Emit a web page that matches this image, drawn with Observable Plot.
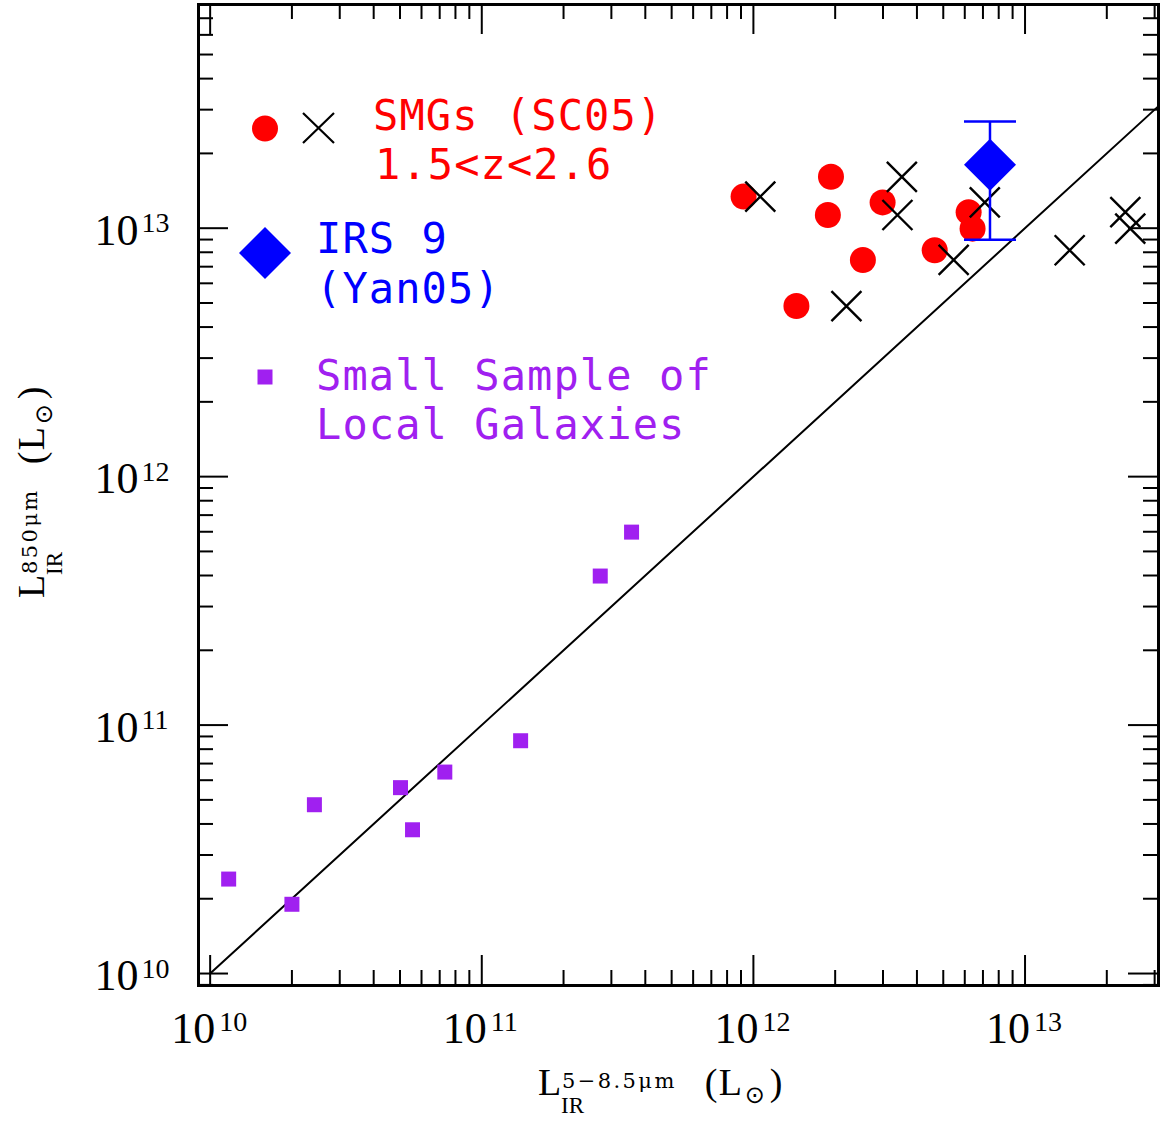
<!DOCTYPE html>
<html><head><meta charset="utf-8">
<script src="https://cdn.jsdelivr.net/npm/d3@7"></script>
<script src="https://cdn.jsdelivr.net/npm/@observablehq/plot@0.6"></script>
<style>body{margin:0;background:#fff}</style>
</head><body><div id="chart"></div>
<script>
// ---- data ----
// Small sample of local galaxies
const localLmid = [1.17e10, 2.0e10, 2.42e10, 5.02e10, 5.56e10, 7.31e10, 1.39e11, 2.73e11, 3.56e11];
const localL850 = [2.4e10, 1.9e10, 4.78e10, 5.6e10, 3.79e10, 6.47e10, 8.65e10, 3.98e11, 5.98e11];
// SMGs (SC05): same L850 for the circle (red) and cross (black) estimate
const smgL850       = [1.34e13, 1.61e13, 1.13e13, 1.27e13, 7.45e12, 4.86e12, 8.15e12, 1.16e13, 9.96e12];
const smgLmidCircle = [9.2e11, 1.93e12, 1.88e12, 2.99e12, 2.53e12, 1.44e12, 4.65e12, 6.2e12, 6.41e12];
const smgLmidCross  = [1.06e12, 3.52e12, 3.39e12, 7.11e12, 5.46e12, 2.20e12, 1.46e13, 2.34e13, 2.44e13];
// IRS 9 (Yan05)
const irs9Lmid = [7.43e12];
const irs9L850 = [1.80e13];
const irs9L850Lo = [8.98e12];
const irs9L850Hi = [2.69e13];
// one-to-one line extent
const oneToOne = [1e10, 3.1e13];
// ticks
const xMajorTicks = [1e10, 1e11, 1e12, 1e13];
const yMajorTicks = [1e10, 1e11, 1e12, 1e13];
const tickExponents = ["10", "11", "12", "13"];
const xDomain = [9.06e9, 3.1e13];
const yDomain = [8.95e9, 7.95e13];

// ---- layout ----
const W = 1163, H = 1121, mL = 198, mR = 5, mT = 4, mB = 136;
const fw = W - mL - mR, fh = H - mT - mB;
const RED = "#ff0000", BLUE = "#0000ff", PURPLE = "#a020f0";

function minorTicks(domain) {
  const out = [];
  for (let e = 9; e <= 14; e++) for (let m = 2; m <= 9; m++) {
    const v = m * Math.pow(10, e);
    if (v >= domain[0] && v <= domain[1]) out.push(v);
  }
  return out;
}
const xMinor = minorTicks(xDomain), yMinor = minorTicks(yDomain);

const symX = {draw(c, s) { const r = Math.sqrt(s / Math.PI); c.moveTo(-r, -r); c.lineTo(r, r); c.moveTo(-r, r); c.lineTo(r, -r); }};
const symSquare = {draw(c, s) { const r = Math.sqrt(s / Math.PI); c.moveTo(-r, -r); c.lineTo(r, -r); c.lineTo(r, r); c.lineTo(-r, r); c.closePath(); }};
const symDiamond = {draw(c, s) { const r = Math.sqrt(s / Math.PI); c.moveTo(0, -r); c.lineTo(r, 0); c.lineTo(0, r); c.lineTo(-r, 0); c.closePath(); }};
const symCap = {draw(c, s) { const r = Math.sqrt(s / Math.PI); c.moveTo(-r, 0); c.lineTo(r, 0); }};

const local = localLmid.map((x, i) => ({x, y: localL850[i]}));
const smg = smgL850.map((y, i) => ({y, xc: smgLmidCircle[i], xx: smgLmidCross[i]}));
const irs9 = irs9Lmid.map((x, i) => ({x, y: irs9L850[i], lo: irs9L850Lo[i], hi: irs9L850Hi[i]}));

const serif = "Liberation Serif, Times New Roman, serif";
const tk = {stroke: "black", strokeWidth: 2};

const chart = Plot.plot({
  width: W, height: H,
  marginLeft: mL, marginRight: mR, marginTop: mT, marginBottom: mB,
  style: {background: "white", overflow: "visible"},
  x: {type: "log", domain: xDomain, axis: null},
  y: {type: "log", domain: yDomain, axis: null},
  marks: [
    // inward ticks on all four sides
    Plot.tickX(xMinor, {x: d => d, insetTop: fh - 15, ...tk}),
    Plot.tickX(xMinor, {x: d => d, insetBottom: fh - 15, ...tk}),
    Plot.tickX(xMajorTicks, {x: d => d, insetTop: fh - 30, ...tk}),
    Plot.tickX(xMajorTicks, {x: d => d, insetBottom: fh - 30, ...tk}),
    Plot.tickY(yMinor, {y: d => d, insetRight: fw - 15, ...tk}),
    Plot.tickY(yMinor, {y: d => d, insetLeft: fw - 15, ...tk}),
    Plot.tickY(yMajorTicks, {y: d => d, insetRight: fw - 30, ...tk}),
    Plot.tickY(yMajorTicks, {y: d => d, insetLeft: fw - 30, ...tk}),
    // tick labels
    Plot.text(xMajorTicks, {x: d => d, text: () => "10", frameAnchor: "bottom", dy: 57, dx: 5, textAnchor: "end", lineAnchor: "bottom", fontSize: 44, fontFamily: serif, fill: "black"}),
    Plot.text(xMajorTicks, {x: d => d, text: (d, i) => tickExponents[i], frameAnchor: "bottom", dy: 45, dx: 9, textAnchor: "start", lineAnchor: "bottom", fontSize: 28, fontFamily: serif, fill: "black"}),
    Plot.text(yMajorTicks, {y: d => d, text: () => "10", frameAnchor: "left", dx: -60, dy: 16.5, textAnchor: "end", lineAnchor: "bottom", fontSize: 44, fontFamily: serif, fill: "black"}),
    Plot.text(yMajorTicks, {y: d => d, text: (d, i) => tickExponents[i], frameAnchor: "left", dx: -57, dy: 4, textAnchor: "start", lineAnchor: "bottom", fontSize: 28, fontFamily: serif, fill: "black"}),
    // one-to-one line
    Plot.line(oneToOne, {x: d => d, y: d => d, stroke: "black", strokeWidth: 2}),
    // local galaxies
    Plot.dot(local, {x: "x", y: "y", symbol: symSquare, r: 7.5, fill: PURPLE, stroke: "none"}),
    // SMGs
    Plot.dot(smg, {x: "xc", y: "y", r: 13, fill: RED, stroke: "none"}),
    Plot.dot(smg, {x: "xx", y: "y", symbol: symX, r: 15, fill: "none", stroke: "black", strokeWidth: 2.4}),
    // IRS 9 with error bar
    Plot.ruleX(irs9, {x: "x", y1: "lo", y2: "hi", stroke: BLUE, strokeWidth: 2.5}),
    Plot.dot(irs9, {x: "x", y: "lo", symbol: symCap, r: 26, fill: "none", stroke: BLUE, strokeWidth: 2.5}),
    Plot.dot(irs9, {x: "x", y: "hi", symbol: symCap, r: 26, fill: "none", stroke: BLUE, strokeWidth: 2.5}),
    Plot.dot(irs9, {x: "x", y: "y", symbol: symDiamond, r: 26, fill: BLUE, stroke: "none"}),
    Plot.frame({stroke: "black", strokeWidth: 3})
  ]
});
document.getElementById("chart").appendChild(chart);

// ---- legend and axis titles ----
const svg = d3.select(chart);
const mono = "DejaVu Sans Mono, monospace";
const lg = svg.append("g").attr("text-anchor", "start");
function txt(g, x, y, s, size, fill, family) {
  return g.append("text").attr("x", x).attr("y", y).attr("font-size", size)
    .attr("text-anchor", "start")
    .attr("font-family", family || mono).attr("fill", fill || "black").text(s);
}
function ltxt(x, y, s, fill) { return txt(lg, x, y, s, 42, fill).attr("letter-spacing", 1.1); }
lg.append("circle").attr("cx", 265).attr("cy", 128.5).attr("r", 13).attr("fill", RED);
lg.append("path").attr("d", "M303,113L334,143M303,143L334,113").attr("stroke", "black").attr("stroke-width", 2.2).attr("fill", "none");
ltxt(373, 130, "SMGs (SC05)", RED);
ltxt(375, 179, "1.5<z<2.6", RED);
lg.append("path").attr("d", "M265,227L291,253L265,279L239,253Z").attr("fill", BLUE);
ltxt(316, 253, "IRS 9", BLUE);
ltxt(316, 303, "(Yan05)", BLUE);
lg.append("rect").attr("x", 257.5).attr("y", 369.5).attr("width", 15).attr("height", 15).attr("fill", PURPLE);
ltxt(316, 390, "Small Sample of", PURPLE);
ltxt(316, 439, "Local Galaxies", PURPLE);

// axis titles: L_IR^{band} (L_⊙), laid out along a baseline
const dv = "DejaVu Serif, serif";
function axisTitle(g, band, gap) {
  txt(g, 0, 0, "L", 38, "black", serif);
  txt(g, 23, 18, "IR", 23, "black", serif);
  const sup = txt(g, 24, -7, band, 21, "black", dv).attr("letter-spacing", 2.4);
  const w = sup.node().getComputedTextLength();
  const p = 24 + w + gap;
  txt(g, p, 0, "(", 38, "black", serif);
  txt(g, p + 14, 0, "L", 38, "black", serif);
  txt(g, p + 40, 8, "\u2299", 24, "black", "DejaVu Sans, sans-serif");
  txt(g, p + 65, 0, ")", 38, "black", serif);
}
axisTitle(svg.append("g").attr("text-anchor", "start").attr("transform", "translate(538,1095)"), "5\u22128.5\u03bcm", 28);
axisTitle(svg.append("g").attr("text-anchor", "start").attr("transform", "translate(44,598) rotate(-90)"), "850\u03bcm", 24);
</script>
</body></html>
